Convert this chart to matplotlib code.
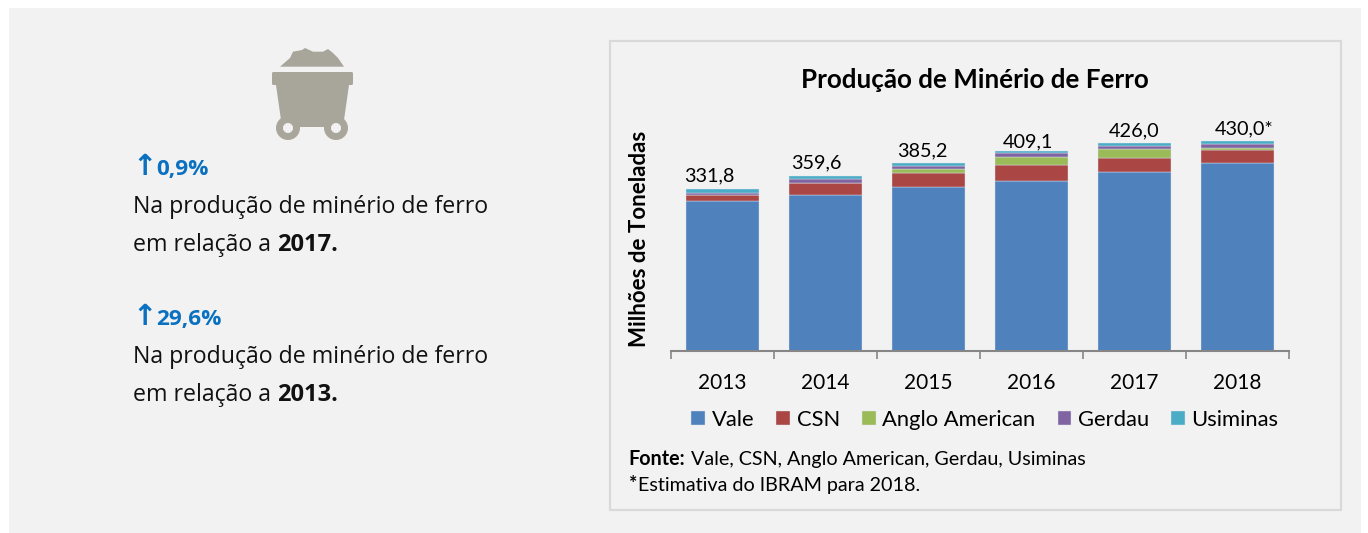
import matplotlib
matplotlib.use('Agg')
import matplotlib.pyplot as plt
from matplotlib.patches import Rectangle, Polygon, Circle, FancyBboxPatch

W, H = 1368, 533

years = ['2013', '2014', '2015', '2016', '2017', '2018']
vale = [308.0, 319.5, 335.5, 349.0, 367.0, 385.0]
csn = [11.0, 25.5, 28.7, 31.5, 29.5, 26.6]
anglo = [0.0, 0.0, 8.8, 17.0, 17.2, 4.8]
gerdau = [5.5, 7.6, 6.8, 8.2, 6.8, 7.5]
usiminas = [7.3, 7.0, 5.4, 3.4, 5.5, 6.1]
totals = ['331,8', '359,6', '385,2', '409,1', '426,0', '430,0*']

# hand placed label offsets from the original chart
label_dx = [-0.126, -0.092, -0.063, -0.034, 0.0, 0.068]
label_dy = [10, 8, 8, 2, 8, 8]

series = [('Vale', vale, '#4f81bd'), ('CSN', csn, '#aa4643'), ('Anglo American', anglo, '#9bbb59'),
          ('Gerdau', gerdau, '#8064a2'), ('Usiminas', usiminas, '#4bacc6')]

fig = plt.figure(figsize=(W/100, H/100), dpi=100, facecolor='white')

# whole figure in pixel coords, y going down
bg = fig.add_axes([0, 0, 1, 1])
bg.set_xlim(0, W)
bg.set_ylim(H, 0)
bg.axis('off')
bg.add_patch(Rectangle((9, 8), 1352, 525, fc='#f2f2f2', ec='none'))
bg.add_patch(Rectangle((610, 40.5), 731, 469, fc='#f2f2f2', ec='#d9d9d9', lw=1.6))

# mine cart icon
grey = '#a8a59b'
bg.add_patch(Polygon([(280, 66.7), (290, 58), (293, 51.7), (302, 50), (305, 48), (313, 51.7), (323, 51.7),
                      (328, 49), (333, 53), (338, 58), (344, 66.7)], fc=grey, ec='none'))
bg.add_patch(FancyBboxPatch((272, 72), 81, 13, boxstyle='round,pad=0,rounding_size=1.5', fc=grey, ec='none'))
bg.add_patch(Polygon([(276, 85), (349, 85), (343, 127), (282, 127)], fc=grey, ec='none'))
for cx in (288, 336):
    bg.add_patch(Circle((cx, 128), 12, fc=grey, ec='none'))
    bg.add_patch(Circle((cx, 128), 5, fc='#f2f2f2', ec='none'))

# left text
left_font = ['Open Sans', 'DejaVu Sans']
blue = '#0a70c0'
for y, pct, ref in [(169, '0,9%', '2017.'), (319, '29,6%', '2013.')]:
    bg.text(132, y - 2, '\u2191', color=blue, fontsize=21, fontweight='bold', family='DejaVu Sans', va='center')
    bg.text(156, y, pct, color=blue, fontsize=16.2, fontweight='bold', family=left_font, va='center')
    bg.text(133, y + 38, 'Na produção de minério de ferro', color='#111111', fontsize=16.65, family=left_font, va='center')
    t = bg.text(133, y + 76, 'em relação a', color='#111111', fontsize=16.65, family=left_font, va='center')
    fig.canvas.draw()
    x_end = t.get_window_extent().x1
    bg.text(x_end + 6, y + 76, ref, color='#111111', fontsize=17, fontweight='bold', family=left_font, va='center')

# chart, axes placed so the baseline sits at y=351
chart_font = 'Lato'
x0, x1, ytop, ybase = 671, 1289, 120, 351
ax = fig.add_axes([x0/W, 1 - ybase/H, (x1 - x0)/W, (ybase - ytop)/H])
ax.patch.set_alpha(0)
ax.set_xlim(-0.5, 5.5)
ax.set_ylim(0, (ybase - ytop)/0.488)

bottom = [0.0]*len(years)
handles = []
for name, vals, col in series:
    b = ax.bar(range(len(years)), vals, 0.71, bottom=bottom, color=col, edgecolor='#dce6f1', linewidth=0.3, label=name)
    handles.append(b)
    bottom = [a + v for a, v in zip(bottom, vals)]

for i, lab in enumerate(totals):
    ax.text(i + label_dx[i], bottom[i] + label_dy[i], lab, ha='center', va='bottom',
            fontsize=14.3, family=chart_font, color='#000000')

for s in ('top', 'left', 'right'):
    ax.spines[s].set_visible(False)
ax.spines['bottom'].set_color('#868686')
ax.spines['bottom'].set_linewidth(1.5)
ax.set_yticks([])
ax.set_xticks([i - 0.5 for i in range(7)])
ax.set_xticklabels([])
ax.tick_params(axis='x', length=5.5, width=1.2, color='#868686')
for i, y in enumerate(years):
    ax.annotate(y, (i, 0), xytext=(0, -32*0.72), textcoords='offset points', ha='center', va='center',
                fontsize=15, family=chart_font, color='#000000', annotation_clip=False)

bg.text(975, 80, 'Produção de Minério de Ferro', ha='center', va='center', fontsize=18.75, fontweight='bold',
        family=chart_font, color='#000000')
bg.text(639, 239, 'Milhões de Toneladas', ha='center', va='center', rotation=90, fontsize=16, fontweight='bold',
        family=chart_font, color='#000000')

leg = fig.legend(handles=handles, loc='center', bbox_to_anchor=(985/W, 1 - 420/H), ncol=5, frameon=False,
                 prop={'family': chart_font, 'size': 15.8}, handlelength=0.63, handleheight=0.63, handletextpad=0.3,
                 columnspacing=1.0, labelcolor='#000000')

bg.text(628, 459, 'Fonte:', fontsize=14.2, fontweight='bold', family=chart_font, va='center', color='#000000')
bg.text(691, 459, 'Vale, CSN, Anglo American, Gerdau, Usiminas', fontsize=14.2, family=chart_font, va='center', color='#000000')
bg.text(629, 485, '*', fontsize=14.2, fontweight='bold', family=chart_font, va='center', color='#000000')
bg.text(638, 485, 'Estimativa do IBRAM para 2018.', fontsize=14.2, family=chart_font, va='center', color='#000000')

fig.savefig('out.png', dpi=100)
